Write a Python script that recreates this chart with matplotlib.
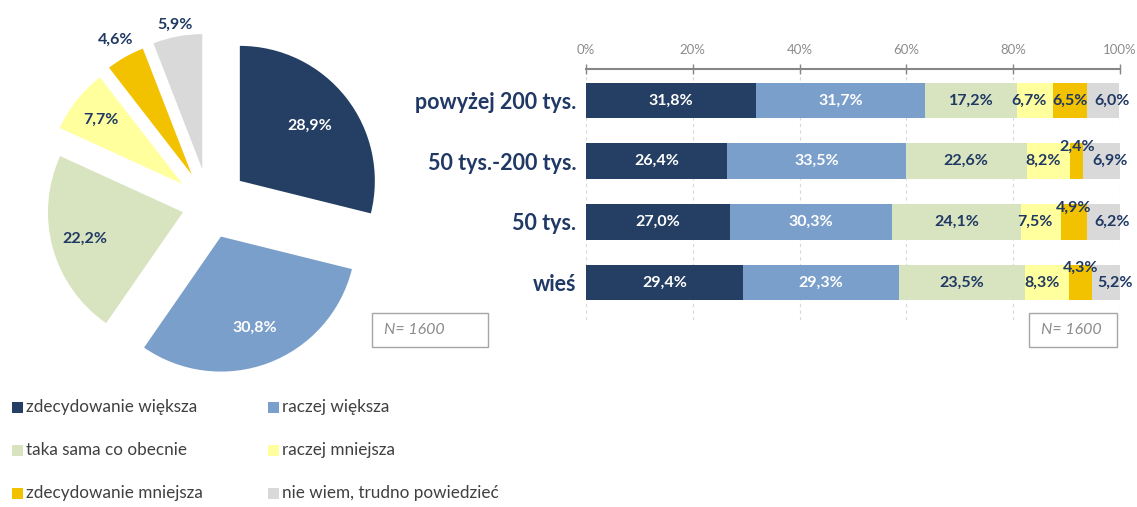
import matplotlib.pyplot as plt
import numpy as np
from matplotlib.patches import Rectangle

plt.rcParams['font.family'] = ['Lato', 'DejaVu Sans']

# answer categories and colours
answers = ['zdecydowanie większa', 'raczej większa', 'taka sama co obecnie',
           'raczej mniejsza', 'zdecydowanie mniejsza', 'nie wiem, trudno powiedzieć']
colors = ['#243f63', '#7b9fcb', '#d8e4bf', '#ffff9e', '#f2c100', '#d9d9d9']

# whole sample (pie)
total = [28.9, 30.8, 22.2, 7.7, 4.6, 5.9]

# by place of residence (bars)
places = ['powyżej 200 tys.', '50 tys.-200 tys.', '50 tys.', 'wieś']
zdec_wieksza = [31.8, 26.4, 27.0, 29.4]
raczej_wieksza = [31.7, 33.5, 30.3, 29.3]
taka_sama = [17.2, 22.6, 24.1, 23.5]
raczej_mniejsza = [6.7, 8.2, 7.5, 8.3]
zdec_mniejsza = [6.5, 2.4, 4.9, 4.3]
nie_wiem = [6.0, 6.9, 6.2, 5.2]

n_label = 'N= 1600'

navy = '#1f3864'


def fmt(v):
    return f'{v:.1f}%'.replace('.', ',')


W, H = 1137, 507
fig = plt.figure(figsize=(W / 100, H / 100), dpi=100)

# ---- pie ----
ax1 = fig.add_axes([9 / W, 102 / H, 400 / W, 400 / H])
explode = [0.29, 0.25, 0.20, 0.25, 0.26, 0.27]
wedges, _ = ax1.pie(total, colors=colors, startangle=90, counterclock=False,
                    explode=explode, radius=1)
lim = 200 / 135
ax1.set_xlim(-lim, lim)
ax1.set_ylim(-lim, lim)
ax1.axis('off')

lab_dist = [0.66, 0.72, 0.75, 0.77, 1.15, 1.09]
lab_col = ['white', 'white', navy, navy, navy, navy]
for w, v, d, c in zip(wedges, total, lab_dist, lab_col):
    t = np.deg2rad((w.theta1 + w.theta2) / 2)
    cx, cy = w.center
    ax1.text(cx + d * np.cos(t), cy + d * np.sin(t), fmt(v), ha='center',
             va='center', color=c, fontsize=11.5, fontweight='bold')

# ---- stacked bars ----
ax2 = fig.add_axes([586 / W, (H - 320) / H, 534 / W, 251 / H])
segs = [zdec_wieksza, raczej_wieksza, taka_sama, raczej_mniejsza,
        zdec_mniejsza, nie_wiem]
y = np.arange(len(places))
bh = 0.59
left = np.zeros(len(places))
for k, (vals, col) in enumerate(zip(segs, colors)):
    vals = np.array(vals)
    ax2.barh(y, vals, left=left, color=col, height=bh, zorder=2)
    for i, v in enumerate(vals):
        xc = left[i] + v / 2
        yc = y[i]
        tc = 'white' if k < 2 else navy
        if k == 3:
            xc -= 1.0
        if k == 4 and i > 0:
            yc = y[i] - bh / 2 + 0.06
        if k == 5:
            xc += 1.6
        ax2.text(xc, yc, fmt(v), ha='center', va='center', color=tc,
                 fontsize=11.5, fontweight='bold', zorder=3)
    left += vals

ax2.set_xlim(0, 100)
ax2.set_ylim(3.62, -0.52)
ax2.xaxis.tick_top()
ax2.set_xticks(range(0, 101, 20))
ax2.set_xticklabels([f'{t}%' for t in range(0, 101, 20)], color='#8c8c8c',
                    fontsize=9.5)
ax2.tick_params(axis='x', direction='inout', length=7, width=1,
                color='#868686', pad=6)
ax2.set_yticks(y)
ax2.set_yticklabels(places, fontsize=15.5, fontweight='bold', color=navy)
ax2.tick_params(axis='y', length=0, pad=7)
for s in ['left', 'right', 'bottom']:
    ax2.spines[s].set_visible(False)
ax2.spines['top'].set_color('#868686')
ax2.spines['top'].set_linewidth(1.5)
ax2.grid(axis='x', color='#d9d9d9', linestyle=(0, (3, 3)), linewidth=0.8, zorder=0)
ax2.set_axisbelow(True)

# ---- N boxes ----
for x0, x1 in [(372, 488), (1029, 1117)]:
    fig.add_artist(Rectangle((x0 / W, (H - 347) / H), (x1 - x0) / W, 34 / H,
                             transform=fig.transFigure, fill=False,
                             ec='#a6a6a6', lw=1))
    fig.text((x0 + 12) / W, (H - 330) / H, n_label, ha='left', va='center',
             fontsize=11.5, style='italic', color='#8c8c8c')

# ---- legend ----
for i, (name, col) in enumerate(zip(answers, colors)):
    lx = [12, 268][i % 2]
    ly = [407, 450, 493][i // 2]
    fig.add_artist(Rectangle((lx / W, (H - ly - 5.5) / H), 11 / W, 11 / H,
                             transform=fig.transFigure, color=col, lw=0))
    fig.text((lx + 14) / W, (H - ly) / H, name, ha='left', va='center',
             fontsize=12.3, color='#404040')

fig.savefig('out.png', dpi=100)
